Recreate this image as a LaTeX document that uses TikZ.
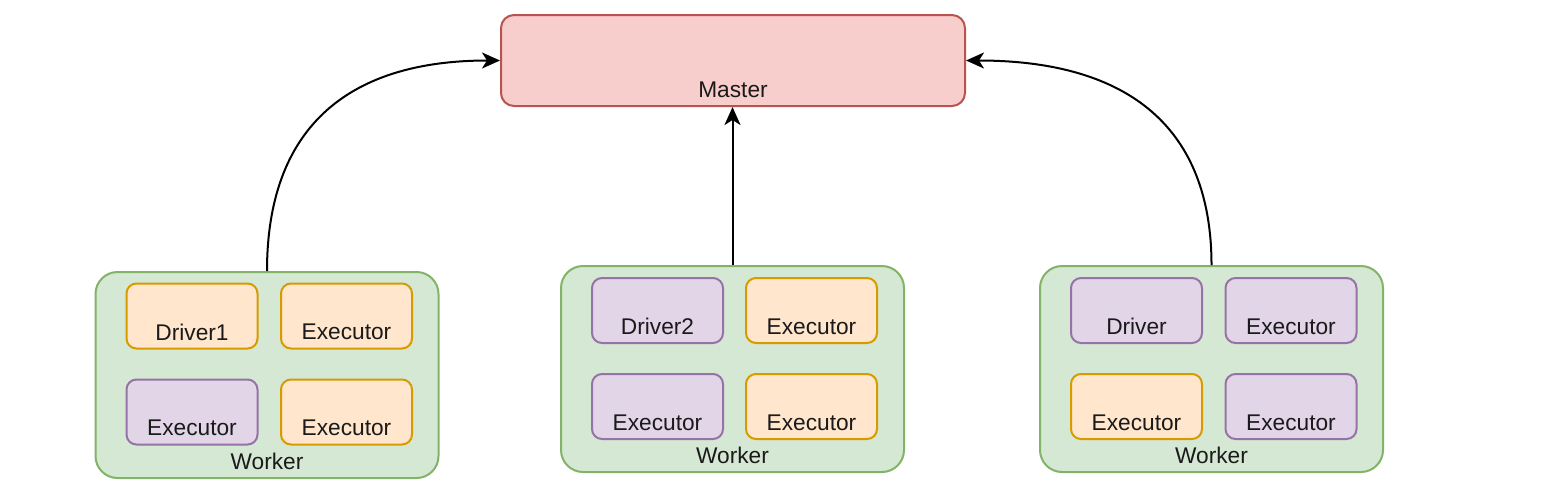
\documentclass[tikz,border=0pt]{standalone}
\usepackage{fontspec}
\setmainfont{Liberation Sans}
\usetikzlibrary{arrows.meta,calc}
\definecolor{redfill}{HTML}{F8CECC}
\definecolor{redline}{HTML}{B85450}
\definecolor{greenfill}{HTML}{D5E8D4}
\definecolor{greenline}{HTML}{82B366}
\definecolor{orangefill}{HTML}{FFE6CC}
\definecolor{orangeline}{HTML}{D79B00}
\definecolor{purplefill}{HTML}{E1D5E7}
\definecolor{purpleline}{HTML}{9673A6}
\definecolor{txt}{HTML}{1A1A1A}
\tikzset{
  base/.style={draw, line width=2pt, inner sep=0pt},
  masterbox/.style={base, fill=redfill, draw=redline, rounded corners=13pt, minimum width=464pt, minimum height=91pt},
  workerbox/.style={base, fill=greenfill, draw=greenline, rounded corners=22pt, minimum width=343pt, minimum height=206pt},
  orangebox/.style={base, fill=orangefill, draw=orangeline, rounded corners=10pt, minimum width=131pt, minimum height=65pt},
  purplebox/.style={base, fill=purplefill, draw=purpleline, rounded corners=10pt, minimum width=131pt, minimum height=65pt},
  lbl/.style={font=\fontsize{22.7pt}{26pt}\selectfont, text=txt, inner sep=0pt, anchor=center},
  conn/.style={line width=2pt, -{Stealth[length=18pt,width=16pt,inset=5pt]}},
}
\newcommand{\boxtext}[2]{\node[lbl] (#1t) at ([yshift=17.5pt]#1.south) {#2};}
\begin{document}
\begin{tikzpicture}[x=1pt,y=-1pt]
\useasboundingbox (0,0) rectangle (1544,488);
% master
\node[masterbox] (m) at (733,60.5) {};
\boxtext{m}{Master}
% workers
\node[workerbox] (w1) at (267,375) {};
\boxtext{w1}{Worker}
\node[workerbox] (w2) at (732.5,369) {};
\boxtext{w2}{Worker}
\node[workerbox] (w3) at (1211.5,369) {};
\boxtext{w3}{Worker}
% worker 1
\node[orangebox] (a1) at (192,316) {};   \boxtext{a1}{Driver1}
\node[orangebox] (a2) at (346.5,316) {}; \boxtext{a2}{Executor}
\node[purplebox] (a3) at (192,412) {};   \boxtext{a3}{Executor}
\node[orangebox] (a4) at (346.5,412) {}; \boxtext{a4}{Executor}
% worker 2
\node[purplebox] (b1) at (657.5,310.5) {}; \boxtext{b1}{Driver2}
\node[orangebox] (b2) at (811.5,310.5) {}; \boxtext{b2}{Executor}
\node[purplebox] (b3) at (657.5,406.5) {}; \boxtext{b3}{Executor}
\node[orangebox] (b4) at (811.5,406.5) {}; \boxtext{b4}{Executor}
% worker 3
\node[purplebox] (c1) at (1136.5,310.5) {}; \boxtext{c1}{Driver}
\node[purplebox] (c2) at (1291,310.5) {};   \boxtext{c2}{Executor}
\node[orangebox] (c3) at (1136.5,406.5) {}; \boxtext{c3}{Executor}
\node[purplebox] (c4) at (1291,406.5) {};   \boxtext{c4}{Executor}
% connectors
\coordinate (k1) at (w1.north |- m.west);
\coordinate (k3) at (w3.north |- m.east);
\draw[conn] (w1.north) .. controls ($(w1.north)!0.667!(k1)$) and ($(m.west)!0.667!(k1)$) .. (m.west);
\draw[conn] (w2.north) -- (w2.north |- m.south);
\draw[conn] (w3.north) .. controls ($(w3.north)!0.667!(k3)$) and ($(m.east)!0.667!(k3)$) .. (m.east);
\end{tikzpicture}
\end{document}
